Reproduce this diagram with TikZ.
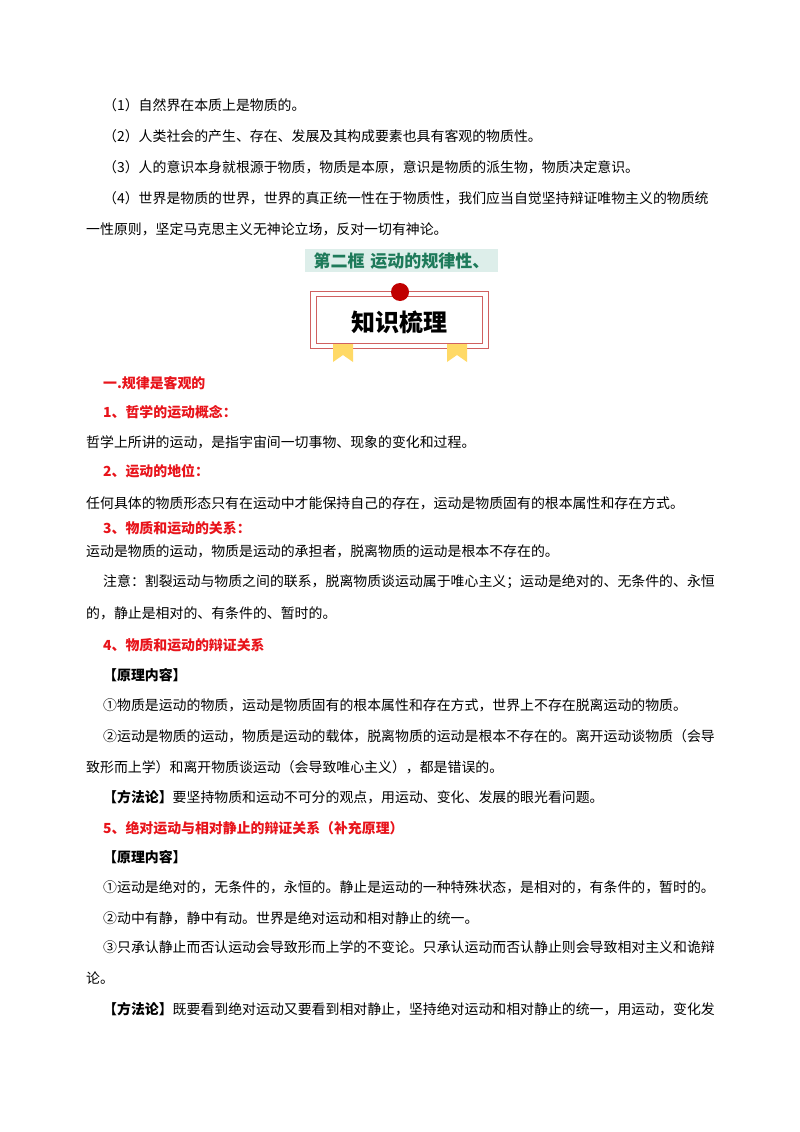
\documentclass[tikz,border=0pt]{standalone}
\usepackage{fontspec}
\newfontfamily\cjk{Noto Sans CJK SC}
\definecolor{hred}{HTML}{E8141B}
\definecolor{tgreen}{HTML}{1E7A5A}
\definecolor{tbg}{HTML}{DDEEEA}
\definecolor{bred}{HTML}{D06060}
\definecolor{dred}{HTML}{C00000}
\definecolor{ylw}{HTML}{FFD966}
\begin{document}
\begin{tikzpicture}[x=1pt,y=-1pt,
 txt/.style={anchor=west,inner sep=0pt,font=\cjk\fontsize{13.9}{16}\selectfont},
 hd/.style={txt,text=hred,font=\cjk\bfseries\fontsize{13.9}{16}\selectfont},
 bk/.style={txt,font=\cjk\bfseries\fontsize{13.9}{16}\selectfont}]
\useasboundingbox (0,0) rectangle (800,1132);
\fill[white] (0,0) rectangle (800,1132);
\node[txt] (a1) at (103,105) {（1）自然界在本质上是物质的。};
\node[txt] (a2) at (103,136) {（2）人类社会的产生、存在、发展及其构成要素也具有客观的物质性。};
\node[txt] (a3) at (103,167) {（3）人的意识本身就根源于物质，物质是本原，意识是物质的派生物，物质决定意识。};
\node[txt] (a4) at (103,198) {（4）世界是物质的世界，世界的真正统一性在于物质性，我们应当自觉坚持辩证唯物主义的物质统};
\node[txt] (a5) at (86,229) {一性原则，坚定马克思主义无神论立场，反对一切有神论。};
\fill[tbg] (305,249) rectangle (498,272);
\node[txt,anchor=center,text=tgreen,font=\cjk\bfseries\fontsize{17}{19}\selectfont] (t1) at (401.5,261) {第二框\hspace{6pt}运动的规律性、};
\draw[bred,line width=0.8pt] (310,291) rectangle (488,348);
\draw[bred,line width=0.8pt] (316,296) rectangle (482,343);
\fill[white] (318,298) rectangle (480,341);
\fill[ylw] (333,344) -- (353,344) -- (353,362) -- (343,355) -- (333,362) -- cycle;
\fill[ylw] (447,344) -- (467,344) -- (467,362) -- (457,355) -- (447,362) -- cycle;
\fill[dred] (400,292) circle (9);
\node[txt,anchor=center,font=\cjk\bfseries\fontsize{24}{26}\selectfont] (t2) at (399,322) {知识梳理};
\node[hd] (b1) at (103,383) {一.规律是客观的};
\node[hd] (b2) at (103,412) {1、哲学的运动概念：};
\node[txt] (b3) at (86,442) {哲学上所讲的运动，是指宇宙间一切事物、现象的变化和过程。};
\node[hd] (b4) at (103,471) {2、运动的地位：};
\node[txt] (b5) at (86,503) {任何具体的物质形态只有在运动中才能保持自己的存在，运动是物质固有的根本属性和存在方式。};
\node[hd] (b6) at (103,528) {3、物质和运动的关系：};
\node[txt] (b7) at (86,551) {运动是物质的运动，物质是运动的承担者，脱离物质的运动是根本不存在的。};
\node[txt] (b8) at (103,582) {注意：割裂运动与物质之间的联系，脱离物质谈运动属于唯心主义；运动是绝对的、无条件的、永恒};
\node[txt] (b9) at (86,613) {的，静止是相对的、有条件的、暂时的。};
\node[hd] (c1) at (103,645) {4、物质和运动的辩证关系};
\node[bk] (c2) at (103,675) {【原理内容】};
\node[txt] (c3) at (103,705) {①物质是运动的物质，运动是物质固有的根本属性和存在方式，世界上不存在脱离运动的物质。};
\node[txt] (c4) at (103,736) {②运动是物质的运动，物质是运动的载体，脱离物质的运动是根本不存在的。离开运动谈物质（会导};
\node[txt] (c5) at (86,767) {致形而上学）和离开物质谈运动（会导致唯心主义），都是错误的。};
\node[txt] (c6) at (103,797) {\textbf{【方法论】}要坚持物质和运动不可分的观点，用运动、变化、发展的眼光看问题。};
\node[hd] (d1) at (103,828) {5、绝对运动与相对静止的辩证关系（补充原理）};
\node[bk] (d2) at (103,857) {【原理内容】};
\node[txt] (d3) at (103,887) {①运动是绝对的，无条件的，永恒的。静止是运动的一种特殊状态，是相对的，有条件的，暂时的。};
\node[txt] (d4) at (103,918) {②动中有静，静中有动。世界是绝对运动和相对静止的统一。};
\node[txt] (d5) at (103,947) {③只承认静止而否认运动会导致形而上学的不变论。只承认运动而否认静止则会导致相对主义和诡辩};
\node[txt] (d6) at (86,978) {论。};
\node[txt] (d7) at (103,1009) {\textbf{【方法论】}既要看到绝对运动又要看到相对静止，坚持绝对运动和相对静止的统一，用运动，变化发};
\end{tikzpicture}
\end{document}
